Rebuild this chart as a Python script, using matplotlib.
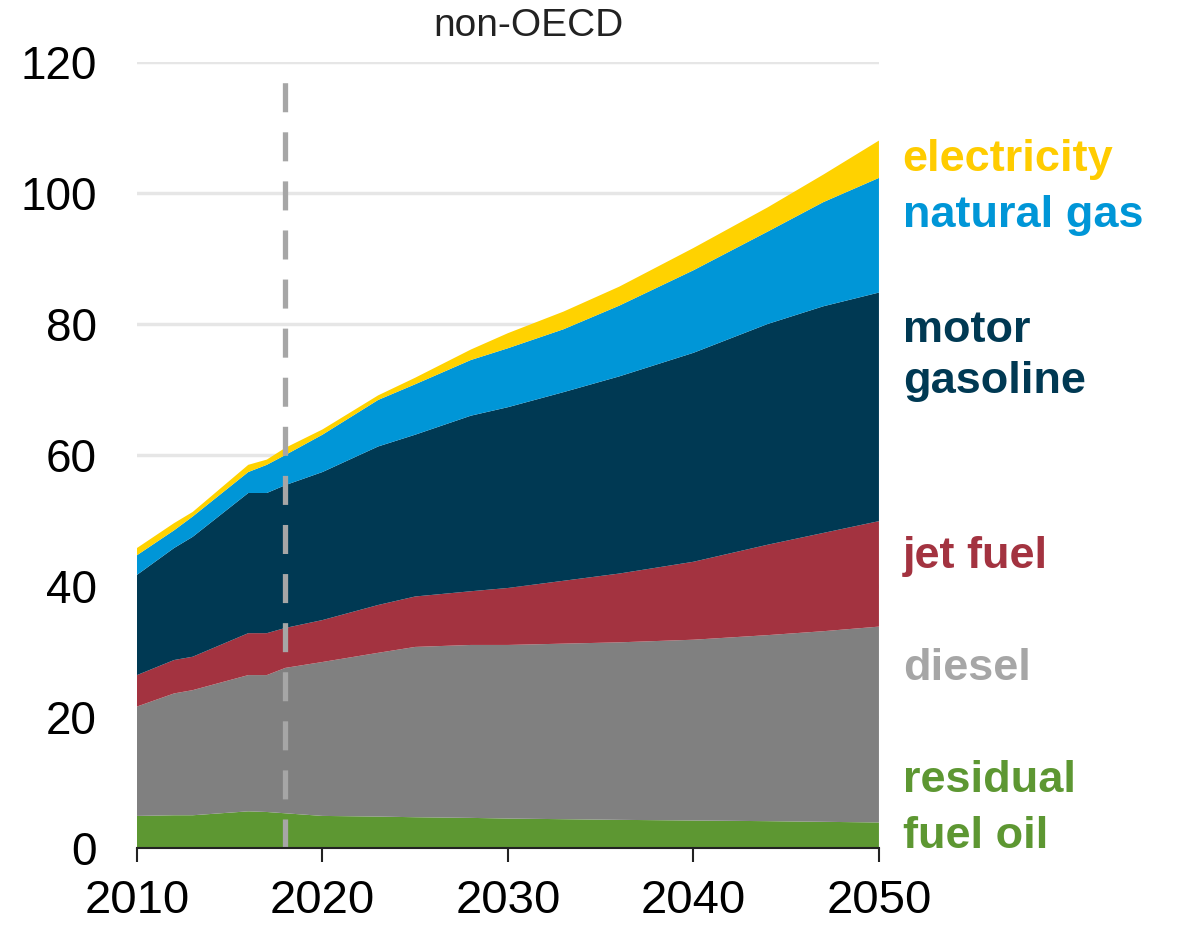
import matplotlib.pyplot as plt

plt.rcParams['font.family'] = ['Liberation Sans', 'DejaVu Sans']

# values (quadrillion Btu), stacked bottom to top
years = [2010, 2012, 2013, 2016, 2017, 2018, 2020, 2023, 2025, 2028,
         2030, 2033, 2036, 2040, 2044, 2047, 2050]
residual = [4.9, 5.0, 5.0, 5.6, 5.5, 5.3, 4.9, 4.8, 4.7, 4.6,
            4.5, 4.4, 4.3, 4.2, 4.1, 4.0, 3.9]
diesel = [16.7, 18.6, 19.1, 20.8, 20.9, 22.2, 23.5, 25.0, 26.0, 26.4,
          26.5, 26.8, 27.1, 27.6, 28.4, 29.1, 29.9]
jet_fuel = [4.8, 5.1, 5.1, 6.4, 6.4, 6.1, 6.4, 7.3, 7.7, 8.2,
            8.7, 9.6, 10.5, 11.9, 13.8, 15.0, 16.1]
gasoline = [15.3, 17.1, 18.3, 21.4, 21.4, 21.8, 22.6, 24.2, 24.7, 26.8,
            27.6, 28.8, 30.1, 31.9, 33.7, 34.6, 34.9]
natural_gas = [3.0, 2.7, 3.1, 3.2, 4.3, 4.6, 5.7, 7.1, 7.7, 8.5,
               9.0, 9.6, 10.8, 12.6, 14.1, 15.9, 17.5]
electricity = [1.1, 1.1, 0.7, 1.1, 0.8, 1.1, 0.8, 0.7, 1.0, 1.6,
               2.3, 2.7, 2.9, 3.4, 3.7, 4.2, 5.7]

colors = ['#5D9732', '#808080', '#A33340', '#003953', '#0096D7', '#FFD200']

fig = plt.figure(figsize=(11.79, 9.36), dpi=100)
ax = fig.add_axes([0.1162, 0.094, 0.6293, 0.8398])

ax.stackplot(years, residual, diesel, jet_fuel, gasoline, natural_gas, electricity,
             colors=colors, linewidth=0, zorder=2)

# history / projection divider
ax.vlines(2018, 0, 118.6, colors='#A6A6A6', linestyles=(0, (5.5, 3.8)),
          linewidth=3.8, zorder=3)

ax.set_xlim(2010, 2050)
ax.set_ylim(0, 120)
ax.set_xticks([2010, 2020, 2030, 2040, 2050])
ax.set_yticks([0, 20, 40, 60, 80, 100, 120])
ax.yaxis.grid(True, color='#E6E6E6', linewidth=2.5, zorder=0)
ax.set_axisbelow(True)

for s in ['top', 'right', 'left']:
    ax.spines[s].set_visible(False)
ax.spines['bottom'].set_color('#222222')
ax.spines['bottom'].set_linewidth(1.5)
ax.spines['bottom'].set_zorder(4)
ax.tick_params(axis='x', direction='out', length=10, width=1.5, color='#222222',
               labelsize=34, pad=12)
ax.tick_params(axis='y', length=0, labelsize=33, pad=29)

fig.text(528 / 1179, 1 - 26 / 936, 'non-OECD', fontsize=28, color='#222222',
         ha='center', va='center')

# end-of-series labels (baseline positions in data units)
labels = [('electricity', 103.3, '#FFCC00'),
          ('natural gas', 94.8, '#0096D7'),
          ('motor', 77.3, '#003953'),
          ('gasoline', 69.4, '#003953'),
          ('jet fuel', 42.7, '#A33340'),
          ('diesel', 25.6, '#A6A6A6'),
          ('residual', 8.6, '#5D9732'),
          ('fuel oil', 0.0, '#5D9732')]
for txt, y, c in labels:
    ax.text(1.032, y, txt, transform=ax.get_yaxis_transform(), fontsize=32.5,
            fontweight='bold', color=c, va='baseline', ha='left', clip_on=False)

fig.savefig('out.png', dpi=100)
